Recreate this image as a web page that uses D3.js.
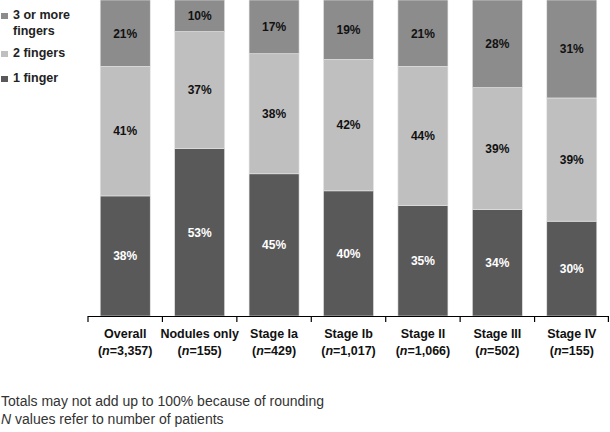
<!DOCTYPE html>
<html>
<head>
<meta charset="utf-8">
<script src="https://cdn.jsdelivr.net/npm/d3@7"></script>
<style>
  body { margin: 0; background: #fff; }
  svg { display: block; font-family: "Liberation Sans", Arial, Helvetica, sans-serif; }
</style>
</head>
<body>
<div id="chart"></div>
<script>
'use strict';

const categories = ["Overall", "Nodules only", "Stage Ia", "Stage Ib", "Stage II", "Stage III", "Stage IV"];
const nValues = ["3,357", "155", "429", "1,017", "1,066", "502", "155"];
const oneFinger = [38, 53, 45, 40, 35, 34, 30];
const twoFingers = [41, 37, 38, 42, 44, 39, 39];
const threeOrMore = [21, 10, 17, 19, 21, 28, 31];
const seriesNames = ["1 finger", "2 fingers", "3 or more fingers"];
const footnotes = ["Totals may not add up to 100% because of rounding", "values refer to number of patients"];

const width = 610, height = 432;
const colors = { "1 finger": "#595959", "2 fingers": "#bfbfbf", "3 or more fingers": "#8c8c8c" };

const svg = d3.select("#chart").append("svg")
    .attr("width", width)
    .attr("height", height);

// one row per category, keys are the series names
const rows = categories.map((c, i) => ({
    category: c,
    "1 finger": oneFinger[i],
    "2 fingers": twoFingers[i],
    "3 or more fingers": threeOrMore[i]
}));

const stacked = d3.stack().keys(seriesNames).offset(d3.stackOffsetExpand)(rows);

const x = d3.scaleBand()
    .domain(categories)
    .range([88, 609])
    .paddingInner(0.328)
    .paddingOuter(0.164);

const y = d3.scaleLinear()
    .domain([0, 1])
    .range([316, 0]);

// bars
const layers = svg.selectAll("g.layer")
    .data(stacked)
    .enter()
    .append("g")
    .attr("class", "layer")
    .attr("fill", d => colors[d.key]);

layers.selectAll("rect")
    .data(d => d)
    .enter()
    .append("rect")
    .attr("x", d => x(d.data.category))
    .attr("y", d => y(d[1]))
    .attr("width", x.bandwidth())
    .attr("height", d => y(d[0]) - y(d[1]))
    .attr("stroke", "#e6e6e6")
    .attr("stroke-width", 0.6);

// value labels
stacked.forEach(layer => {
    svg.append("g")
        .selectAll("text")
        .data(layer)
        .enter()
        .append("text")
        .attr("x", d => x(d.data.category) + x.bandwidth() / 2)
        .attr("y", d => (y(d[0]) + y(d[1])) / 2)
        .attr("dy", "0.36em")
        .attr("text-anchor", "middle")
        .style("font-size", "12px")
        .style("font-weight", "bold")
        .attr("fill", layer.key === "1 finger" ? "#fff" : "#111")
        .text(d => d.data[layer.key] + "%");
});

// x axis: boundaries between categories get tick marks
const xAxis = svg.append("g");
xAxis.append("line")
    .attr("x1", x.range()[0]).attr("x2", x.range()[1])
    .attr("y1", 316.5).attr("y2", 316.5)
    .attr("stroke", "#000").attr("stroke-width", 1.2);

const boundaries = categories.map(c => x(c) - x.step() * x.paddingInner() / 2).concat([x.range()[1] - 0.6]);
xAxis.selectAll("line.tick")
    .data(boundaries)
    .enter()
    .append("line")
    .attr("class", "tick")
    .attr("x1", d => d).attr("x2", d => d)
    .attr("y1", 316).attr("y2", 322)
    .attr("stroke", "#000").attr("stroke-width", 1.2);

const catLabels = xAxis.selectAll("g.cat")
    .data(categories)
    .enter()
    .append("g")
    .attr("class", "cat")
    .attr("transform", d => "translate(" + (x(d) + x.bandwidth() / 2) + ",0)")
    .style("font-size", "12.5px")
    .style("font-weight", "bold")
    .attr("fill", "#111")
    .attr("text-anchor", "middle");

catLabels.append("text")
    .attr("y", 338)
    .text(d => d);

const nLine = catLabels.append("text")
    .attr("y", 355);
nLine.append("tspan").text("(");
nLine.append("tspan").style("font-style", "italic").text("n");
nLine.append("tspan").text((d, i) => "=" + nValues[i] + ")");

// legend, top series first
const legendItems = [
    { key: "3 or more fingers", lines: ["3 or more", "fingers"], y: 19 },
    { key: "2 fingers", lines: ["2 fingers"], y: 57 },
    { key: "1 finger", lines: ["1 finger"], y: 82 }
];

const legend = svg.append("g")
    .style("font-size", "12.5px")
    .style("font-weight", "bold")
    .attr("fill", "#222");

legendItems.forEach(item => {
    legend.append("rect")
        .attr("x", 1).attr("y", item.y - 6)
        .attr("width", 7).attr("height", 6)
        .attr("fill", colors[item.key]);
    item.lines.forEach((t, j) => {
        legend.append("text")
            .attr("x", 13)
            .attr("y", item.y + j * 16)
            .text(t);
    });
});

// footnotes
const notes = svg.append("g")
    .style("font-size", "14px")
    .attr("fill", "#333");
notes.append("text").attr("x", 1).attr("y", 406).text(footnotes[0]);
const n2 = notes.append("text").attr("x", 1).attr("y", 424);
n2.append("tspan").style("font-style", "italic").text("N ");
n2.append("tspan").text(footnotes[1]);
</script>
</body>
</html>
